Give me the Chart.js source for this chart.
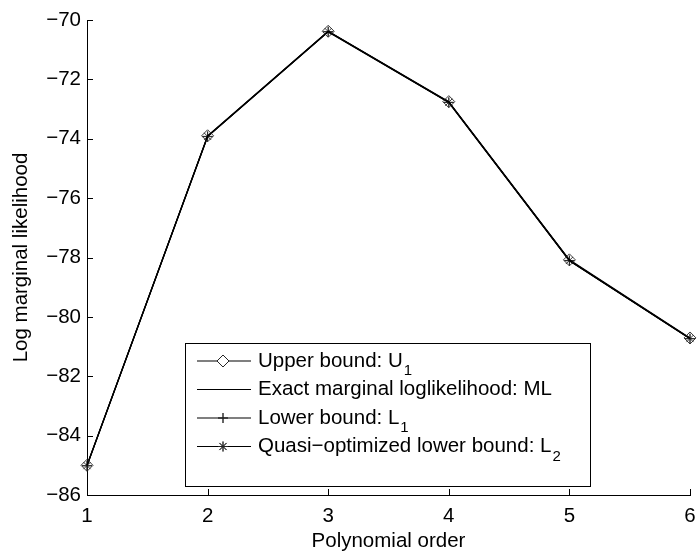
<!DOCTYPE html>
<html>
<head>
<meta charset="utf-8">
<script src="https://cdn.jsdelivr.net/npm/chart.js@4/dist/chart.umd.min.js"></script>
<style>
  html, body { margin: 0; padding: 0; background: #fff; }
  #wrap { width: 697px; height: 556px; }
</style>
</head>
<body>
<div id="wrap"><canvas id="chart"></canvas></div>
<script>
const orders = [1, 2, 3, 4, 5, 6];
const upperBound = [-85.0, -73.9, -70.38, -72.75, -78.08, -80.71];
const exactML = [-85.0, -73.92, -70.39, -72.77, -78.1, -80.73];
const lowerBound = [-85.02, -73.93, -70.4, -72.78, -78.11, -80.74];
const quasiLower = [-85.01, -73.92, -70.39, -72.77, -78.1, -80.73];
const legendText = ['Upper bound: U', 'Exact marginal loglikelihood: ML', 'Lower bound: L', 'Quasi\u2212optimized lower bound: L'];
const legendSub = ['1', '', '1', '2'];
const markerStyles = ['rectRot', false, 'cross', 'star'];

const FONT = '"Liberation Sans", Arial, Helvetica, sans-serif';
const FS = 20.5;

function series(vals, i) {
    return {
        label: legendText[i] + legendSub[i],
        data: orders.map((o, k) => ({ x: o, y: vals[k] })),
        borderColor: '#000',
        borderWidth: 1.2,
        pointStyle: markerStyles[i],
        pointRadius: markerStyles[i] === 'rectRot' ? 6 : (markerStyles[i] ? 5 : 0),
        pointBorderColor: '#222',
        pointBackgroundColor: 'rgba(0,0,0,0)',
        pointBorderWidth: 0.9,
        tension: 0,
        fill: false,
        clip: false
    };
}

// MATLAB style ticks pointing into the axes
const inwardTicks = {
    id: 'inwardTicks',
    afterDraw(chart) {
        const { ctx, chartArea: a, scales: { x, y } } = chart;
        ctx.save();
        ctx.strokeStyle = '#000';
        ctx.lineWidth = 1;
        ctx.beginPath();
        x.ticks.forEach((t, i) => {
            const px = Math.round(x.getPixelForTick(i)) + 0.5;
            ctx.moveTo(px, a.bottom);
            ctx.lineTo(px, a.bottom - 6);
        });
        y.ticks.forEach((t, i) => {
            const py = Math.round(y.getPixelForTick(i)) + 0.5;
            ctx.moveTo(a.left, py);
            ctx.lineTo(a.left + 6, py);
        });
        ctx.stroke();
        ctx.restore();
    }
};

// legend box with subscripts
const subLegend = {
    id: 'subLegend',
    afterDraw(chart) {
        const ctx = chart.ctx;
        const box = { left: 185.5, top: 343.5, right: 590.5, bottom: 486.5 };
        ctx.save();
        ctx.fillStyle = '#fff';
        ctx.fillRect(box.left, box.top, box.right - box.left, box.bottom - box.top);
        ctx.strokeStyle = '#000';
        ctx.lineWidth = 1;
        ctx.strokeRect(box.left, box.top, box.right - box.left, box.bottom - box.top);
        chart.data.datasets.forEach((ds, i) => {
            const cy = 361 + i * 28.5;
            ctx.strokeStyle = '#000';
            ctx.lineWidth = 1.2;
            ctx.beginPath();
            ctx.moveTo(197, cy);
            ctx.lineTo(251, cy);
            ctx.stroke();
            if (ds.pointStyle) {
                ctx.strokeStyle = '#222';
                ctx.lineWidth = 0.9;
                Chart.helpers.drawPoint(ctx, {
                    pointStyle: ds.pointStyle,
                    radius: ds.pointRadius,
                    borderWidth: 0.9,
                    rotation: 0
                }, 223, cy);
                ctx.stroke();
            }
            ctx.fillStyle = '#000';
            ctx.textBaseline = 'middle';
            ctx.textAlign = 'left';
            ctx.font = FS + 'px ' + FONT;
            ctx.fillText(legendText[i], 258, cy);
            if (legendSub[i]) {
                const w = ctx.measureText(legendText[i]).width;
                ctx.font = '15px ' + FONT;
                ctx.fillText(legendSub[i], 258 + w + 1, cy + 10);
            }
        });
        ctx.restore();
    }
};

new Chart(document.getElementById('chart'), {
    type: 'line',
    data: {
        datasets: [
            series(upperBound, 0),
            series(exactML, 1),
            series(lowerBound, 2),
            series(quasiLower, 3)
        ]
    },
    options: {
        responsive: true,
        maintainAspectRatio: false,
        animation: false,
        layout: { padding: { top: 20, right: 7, left: 0, bottom: 0 } },
        plugins: { legend: { display: false }, tooltip: { enabled: false } },
        scales: {
            x: {
                type: 'linear',
                min: 1,
                max: 6,
                afterFit: s => { s.height = 61; s.paddingLeft = 0; s.paddingRight = 0; },
                grid: { display: false, drawTicks: false },
                border: { display: true, color: '#000', width: 1 },
                ticks: { stepSize: 1, color: '#000', padding: 9, font: { family: FONT, size: FS } },
                title: { display: true, text: 'Polynomial order', color: '#000', padding: { top: 0, bottom: 2 }, font: { family: FONT, size: FS } }
            },
            y: {
                min: -86,
                max: -70,
                afterFit: s => { s.width = 87; s.paddingTop = 0; s.paddingBottom = 0; },
                grid: { display: false, drawTicks: false },
                border: { display: true, color: '#000', width: 1 },
                ticks: {
                    stepSize: 2,
                    color: '#000',
                    padding: 6,
                    font: { family: FONT, size: FS },
                    callback: v => String(v).replace('-', '\u2212')
                },
                title: { display: true, text: 'Log marginal likelihood', color: '#000', padding: { top: 9, bottom: 0 }, font: { family: FONT, size: FS } }
            }
        }
    },
    plugins: [inwardTicks, subLegend]
});
</script>
</body>
</html>
